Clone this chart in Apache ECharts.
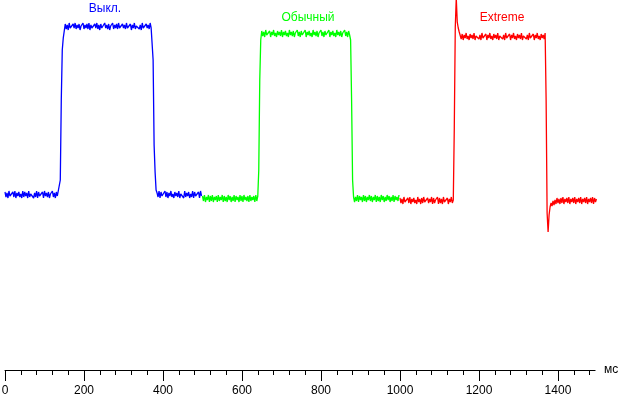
<!DOCTYPE html>
<html>
<head>
<meta charset="utf-8">
<script src="https://cdn.jsdelivr.net/npm/echarts@6/dist/echarts.min.js"></script>
<style>
html,body{margin:0;padding:0;background:#fff;}
#chart{width:619px;height:396px;}
</style>
</head>
<body>
<div id="chart"></div>
<script>
// Time axis (ms)
const xTickLabels = [0, 200, 400, 600, 800, 1000, 1200, 1400];
const xMinorTicks = [40, 80, 120, 160, 240, 280, 320, 360, 440, 480, 520, 560,
  640, 680, 720, 760, 840, 880, 920, 960, 1040, 1080, 1120, 1160,
  1240, 1280, 1320, 1360, 1440, 1480];
const xAxisMax = 1494;
const xUnit = 'мс';
const sampleStepMs = 2.5;

// Series names
const seriesNames = ['Выкл.', 'Обычный', 'Extreme'];
const seriesStartMs = [0, 500, 1000];

// Signal level (arbitrary units)
const offValues = [
178,173,177,172,179,174,176,172,178,173,
179,172,177,174,178,173,176,172,179,173,
178,174,177,172,179,173,176,174,178,172,
177,173,179,172,178,174,176,173,178,172,
179,174,177,173,178,172,176,174,179,173,
177,172,178,174,176,173,
190,270,320,332,339,
346,341,345,340,347,342,344,341,346,342,
347,341,345,342,346,340,344,342,347,341,
345,342,346,341,347,340,345,342,344,341,
346,342,347,341,345,340,346,342,344,341,
347,342,345,341,346,340,344,342,347,341,
345,342,346,341,347,342,344,340,346,342,
345,341,347,342,344,341,346,340,345,342,
347,341,344,342,346,341,345,340,347,342,
344,341,346,342,345,341,347,342,
340,310,225,198,180,
177,173,179,172,178,174,176,172,179,173,
178,172,177,174,179,173,176,172,178,174,
177,173,179,172,176,174,178,172,179,173,
177,174,178,172,176,173,179,172,178,174,
176,173,178,172,179,174
];

const normalValues = [
174,169,175,168,173,170,175,168,174,169,
175,168,173,170,174,168,175,169,173,170,
175,168,174,169,173,168,175,170,174,168,
173,169,175,168,174,170,173,168,175,169,
174,168,175,170,173,169,174,168,175,169,
173,170,174,168,175,169,174,
200,290,330,
339,334,338,333,340,335,337,334,339,333,
338,335,340,334,337,333,339,335,338,334,
340,333,338,335,339,334,337,333,340,335,
338,334,339,333,337,335,340,334,338,333,
339,335,337,334,340,333,338,335,339,334,
337,333,340,335,338,334,339,333,337,335,
340,334,338,333,339,335,337,334,340,333,
338,335,339,334,337,333,340,335,338,334,
339,333,337,335,340,334,338,333,339,335,
330,270,190,173,
168,173,169,175,168,174,170,173,168,175,
169,174,168,173,170,175,169,174,168,173,
170,175,168,174,169,173,168,175,170,174,
168,173,169,175,170,174,168,173,169,175,
168,174,170,173,169,175
];

const extremeValues = [
172,167,171,166,173,168,170,166,172,167,
173,166,171,168,172,167,170,166,173,168,
171,166,172,167,173,168,170,166,172,167,
171,168,173,166,172,167,170,168,173,166,
172,167,171,166,173,168,170,167,172,166,
171,168,173,167,170,
242,343,372,348,342,338,336,
331,336,330,335,332,337,331,334,330,336,
332,335,331,337,330,334,332,336,331,335,
330,337,332,334,331,336,330,335,332,337,
331,334,330,336,332,335,331,337,330,334,
332,336,331,335,330,337,332,334,331,336,
330,335,332,337,331,334,330,336,332,335,
331,337,330,334,332,336,331,335,330,337,
332,334,331,336,330,335,332,337,331,334,
330,336,332,335,331,337,
270,157,138,155,163,167,
164,169,165,170,166,172,167,171,166,172,
167,173,166,171,168,172,167,173,166,171,
168,172,167,173,166,171,168,172,167,173,
166,171,168,172,167,173,166,171,168,172,
167,173,166,172,168,171
];

const seriesValues = [offValues, normalValues, extremeValues];
const seriesColors = ['#0000ff', '#00ff00', '#ff0000'];

function toPairs(values, start) {
  return values.map((v, i) => [start + i * sampleStepMs, v]);
}

const chart = echarts.init(document.getElementById('chart'), null, {renderer: 'canvas'});
const font = 'Liberation Sans, Arial, sans-serif';

chart.setOption({
  animation: false,
  backgroundColor: '#ffffff',
  grid: {left: 5, right: 23.9, top: 0, bottom: 26, containLabel: false, outerBoundsMode: 'none'},
  xAxis: [{
    type: 'value',
    min: 0,
    max: xAxisMax,
    name: xUnit,
    nameLocation: 'end',
    nameGap: 9,
    nameTextStyle: {color: '#000', fontSize: 12, fontFamily: font},
    axisLine: {show: true, onZero: false, lineStyle: {color: '#000', width: 1}},
    axisTick: {show: true, length: 11, customValues: xTickLabels, lineStyle: {color: '#000', width: 1}},
    minorTick: {show: false},
    splitLine: {show: false},
    axisLabel: {
      color: '#000', fontSize: 12, fontFamily: font, margin: 15,
      customValues: xTickLabels,
      formatter: v => String(v)
    }
  }, {
    type: 'value',
    min: 0,
    max: xAxisMax,
    position: 'bottom',
    axisLine: {show: false, onZero: false},
    axisTick: {show: true, length: 5, customValues: xMinorTicks, lineStyle: {color: '#000', width: 1}},
    axisLabel: {show: false},
    splitLine: {show: false}
  }],
  yAxis: {
    type: 'value',
    min: 0,
    max: 370,
    show: false
  },
  graphic: [
    {type: 'text', x: 105, y: 9, style: {text: seriesNames[0], fill: seriesColors[0], font: '12px ' + font, textAlign: 'center', verticalAlign: 'middle'}},
    {type: 'text', x: 308, y: 17.5, style: {text: seriesNames[1], fill: seriesColors[1], font: '12px ' + font, textAlign: 'center', verticalAlign: 'middle'}},
    {type: 'text', x: 502, y: 17.5, style: {text: seriesNames[2], fill: seriesColors[2], font: '12px ' + font, textAlign: 'center', verticalAlign: 'middle'}}
  ],
  series: seriesValues.map((vals, k) => ({
    name: seriesNames[k],
    type: 'line',
    xAxisIndex: 0,
    data: toPairs(vals, seriesStartMs[k]),
    showSymbol: false,
    symbol: 'none',
    clip: false,
    lineStyle: {color: seriesColors[k], width: 1.3},
    itemStyle: {color: seriesColors[k]}
  }))
});
</script>
</body>
</html>
